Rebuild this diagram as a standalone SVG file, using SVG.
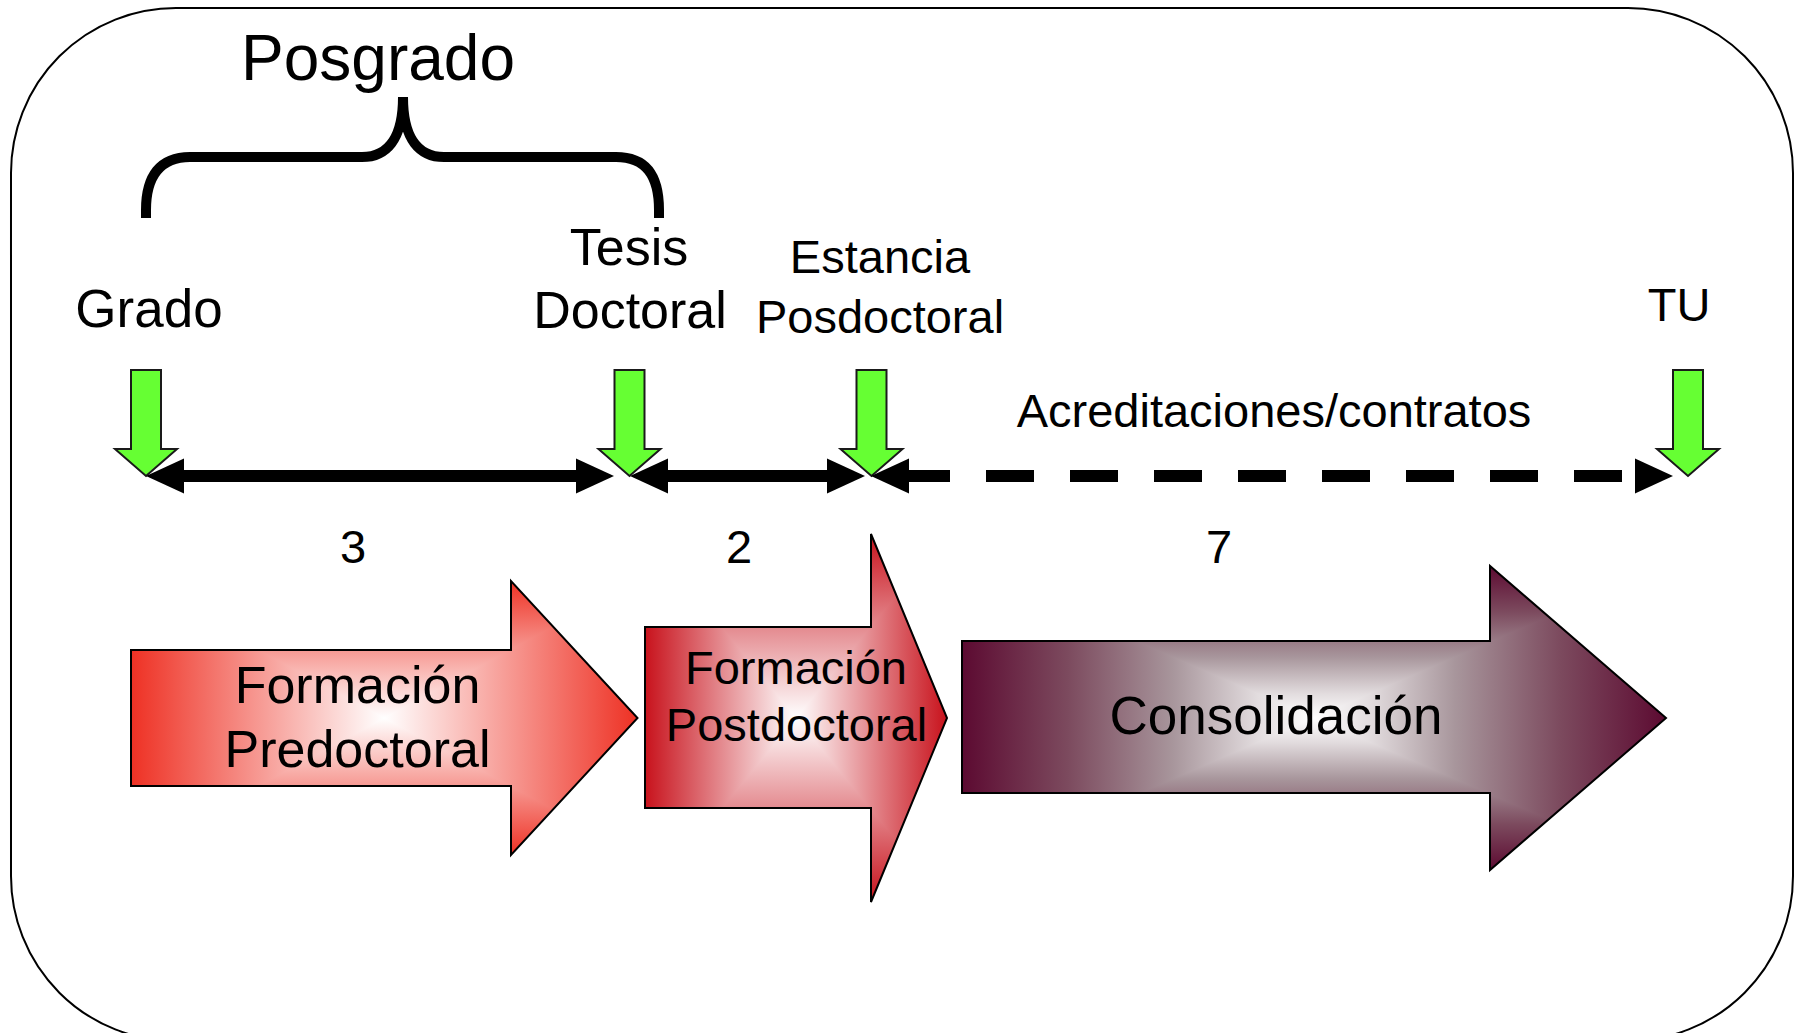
<svg xmlns="http://www.w3.org/2000/svg" width="1801" height="1033" viewBox="0 0 1801 1033">
<style>
  text { font-family: "Liberation Sans", Arial, sans-serif; fill: #000; text-anchor: middle; }
  .frame { fill: #fff; stroke: #000; stroke-width: 2; }
  .green { fill: #66FF33; stroke: #1a1a1a; stroke-width: 2; }
  .bar { fill: none; stroke: #000; stroke-width: 12; marker-start: url(#head); marker-end: url(#head); }
  .dash { stroke-dasharray: 48 36; stroke-dashoffset: 5; }
  .outline { fill: none; stroke: #000; stroke-width: 2; stroke-linejoin: miter; }
  .brace { fill: none; stroke: #000; stroke-width: 10; }
</style>
<defs>
  <marker id="head" markerUnits="userSpaceOnUse" viewBox="0 0 38 36" markerWidth="38" markerHeight="36" refX="2" refY="18" orient="auto-start-reverse">
    <path d="M0,0.5 L38,18 L0,35.5 Z" fill="#000"/>
  </marker>
  <path id="gdown" d="M-15,0 L15,0 L15,79 L31,79 L0,106 L-31,79 L-15,79 Z"/>

  <linearGradient id="g1h" gradientUnits="userSpaceOnUse" x1="131" y1="0" x2="637.5" y2="0">
    <stop offset="0" stop-color="#EE3124"/><stop offset="0.5" stop-color="#fff"/><stop offset="1" stop-color="#EE3124"/>
  </linearGradient>
  <linearGradient id="g1v" gradientUnits="userSpaceOnUse" x1="0" y1="581" x2="0" y2="855">
    <stop offset="0" stop-color="#EE3124"/><stop offset="0.5" stop-color="#fff"/><stop offset="1" stop-color="#EE3124"/>
  </linearGradient>
  <linearGradient id="g2h" gradientUnits="userSpaceOnUse" x1="645" y1="0" x2="947" y2="0">
    <stop offset="0" stop-color="#C8121C"/><stop offset="0.5" stop-color="#fff"/><stop offset="1" stop-color="#C8121C"/>
  </linearGradient>
  <linearGradient id="g2v" gradientUnits="userSpaceOnUse" x1="0" y1="534" x2="0" y2="902">
    <stop offset="0" stop-color="#C8121C"/><stop offset="0.5" stop-color="#fff"/><stop offset="1" stop-color="#C8121C"/>
  </linearGradient>
  <linearGradient id="g3h" gradientUnits="userSpaceOnUse" x1="962" y1="0" x2="1666" y2="0">
    <stop offset="0" stop-color="#5C0A31"/><stop offset="0.15" stop-color="#7C4A5E"/><stop offset="0.3" stop-color="#A8969C"/><stop offset="0.42" stop-color="#E2DCDE"/><stop offset="0.5" stop-color="#fff"/>
    <stop offset="0.58" stop-color="#E2DCDE"/><stop offset="0.7" stop-color="#A8969C"/><stop offset="0.85" stop-color="#7C4A5E"/><stop offset="1" stop-color="#5C0A31"/>
  </linearGradient>
  <linearGradient id="g3v" gradientUnits="userSpaceOnUse" x1="0" y1="566" x2="0" y2="870">
    <stop offset="0" stop-color="#5C0A31"/><stop offset="0.15" stop-color="#7C4A5E"/><stop offset="0.3" stop-color="#A8969C"/><stop offset="0.42" stop-color="#E2DCDE"/><stop offset="0.5" stop-color="#fff"/>
    <stop offset="0.58" stop-color="#E2DCDE"/><stop offset="0.7" stop-color="#A8969C"/><stop offset="0.85" stop-color="#7C4A5E"/><stop offset="1" stop-color="#5C0A31"/>
  </linearGradient>

  <clipPath id="c1"><path id="a1" d="M131,650 L511,650 L511,581 L637.5,718 L511,855 L511,786 L131,786 Z"/></clipPath>
  <clipPath id="c2"><path id="a2" d="M645,627 L871,627 L871,534 L947,718 L871,902 L871,808 L645,808 Z"/></clipPath>
  <clipPath id="c3"><path id="a3" d="M962,641 L1490,641 L1490,566 L1666,718 L1490,870 L1490,793 L962,793 Z"/></clipPath>
</defs>

<rect class="frame" x="11" y="8" width="1782" height="1033" rx="165" ry="165"/>

<g id="posgrado">
  <path class="brace" d="M146,218 L146,210 C146,176 160,157 190,157 L362,157 C386,157 403,140 403,97 C403,140 420,157 444,157 L616,157 C646,157 659,176 659,210 L659,218"/>
  <text x="378" y="80" font-size="64">Posgrado</text>
</g>

<g id="label-grado"><text x="149" y="327" font-size="53">Grado</text></g>
<g id="label-tesis"><text x="629" y="265" font-size="52">Tesis</text><text x="630" y="328" font-size="52">Doctoral</text></g>
<g id="label-estancia"><text x="880" y="273" font-size="47">Estancia</text><text x="880" y="333" font-size="47">Posdoctoral</text></g>
<g id="label-tu"><text x="1679" y="321" font-size="47">TU</text></g>

<g id="milestones">
  <use href="#gdown" class="green" transform="translate(146,370)"/>
  <use href="#gdown" class="green" transform="translate(629.5,370)"/>
  <use href="#gdown" class="green" transform="translate(871.5,370)"/>
  <use href="#gdown" class="green" transform="translate(1688,370)"/>
</g>

<g id="connectors">
  <path class="bar" d="M182,476 L578,476"/>
  <path class="bar" d="M666,476 L829,476"/>
  <path class="bar dash" d="M907,476 L1637,476"/>
</g>

<g id="durations">
  <text x="353" y="563" font-size="47">3</text>
  <text x="739" y="563" font-size="47">2</text>
  <text x="1219" y="563" font-size="47">7</text>
  <text x="1274" y="427" font-size="47">Acreditaciones/contratos</text>
</g>

<g id="formacion-predoctoral">
  <g clip-path="url(#c1)">
    <rect x="131" y="581" width="507" height="274" fill="url(#g1h)"/>
    <path d="M131,581 L637.5,581 L384.25,718 Z M131,855 L637.5,855 L384.25,718 Z" fill="url(#g1v)"/>
  </g>
  <use href="#a1" class="outline"/>
  <text x="357.5" y="703" font-size="52">Formación</text>
  <text x="357.5" y="767" font-size="52">Predoctoral</text>
</g>

<g id="formacion-postdoctoral">
  <g clip-path="url(#c2)">
    <rect x="645" y="534" width="302" height="368" fill="url(#g2h)"/>
    <path d="M645,534 L947,534 L796,718 Z M645,902 L947,902 L796,718 Z" fill="url(#g2v)"/>
  </g>
  <use href="#a2" class="outline"/>
  <text x="796" y="684" font-size="47">Formación</text>
  <text x="796.5" y="741" font-size="47">Postdoctoral</text>
</g>

<g id="consolidacion">
  <g clip-path="url(#c3)">
    <rect x="962" y="566" width="704" height="304" fill="url(#g3h)"/>
    <path d="M962,566 L1666,566 L1314,718 Z M962,870 L1666,870 L1314,718 Z" fill="url(#g3v)"/>
  </g>
  <use href="#a3" class="outline"/>
  <text x="1276" y="734" font-size="53">Consolidación</text>
</g>
</svg>
